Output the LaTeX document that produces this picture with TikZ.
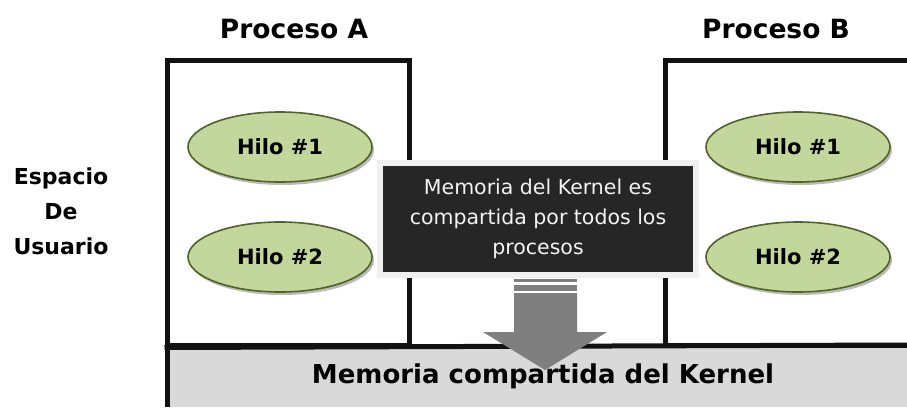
\documentclass[tikz,border=0pt]{standalone}
\usepackage{fontspec}
\setmainfont{DejaVu Sans}
\usepackage{tikz}
\usetikzlibrary{shapes.geometric,shadows}

\definecolor{hilofill}{HTML}{C3D69B}
\definecolor{hiloline}{HTML}{4F6228}
\definecolor{notafill}{HTML}{262626}
\definecolor{kernelfill}{HTML}{D9D9D9}
\definecolor{flechafill}{HTML}{7F7F7F}

\begin{document}
\begin{tikzpicture}[x=1pt,y=-1pt,
  hilo/.style={ellipse,draw=hiloline,line width=1.6pt,fill=hilofill,
    minimum width=184pt,minimum height=70pt,inner sep=0pt,
    font=\fontsize{21}{24}\selectfont\bfseries,
    drop shadow={shadow xshift=2pt,shadow yshift=-3pt,fill=black!45,opacity=.6}},
  proceso/.style={draw=black!93,line width=5pt,inner sep=0pt},
  titulo/.style={font=\fontsize{26.5}{30}\selectfont\bfseries,anchor=base}]
\useasboundingbox (0,0) rectangle (907,407);

\node[fill=kernelfill,minimum width=752pt,minimum height=62pt,inner sep=0pt,
  font=\fontsize{26}{30}\selectfont\bfseries] (kernel) at (543,376) {Memoria compartida del Kernel};
\draw[black!93,line width=5pt] (167,407) -- (167,345);

\node[proceso,minimum width=242pt,minimum height=285pt] (procA) at (288,202.5) {};
\begin{scope}
\clip (0,0) rectangle (907,407);
\node[proceso,minimum width=300pt,minimum height=285pt] (procB) at (815,202.5) {};
\end{scope}
\draw[black!93,line width=5pt] (procA.south west) -- (907,345);

\node[titulo] (tA) at (294,38) {Proceso A};
\node[titulo] (tB) at (776,38) {Proceso B};
\node[align=center,font=\fontsize{22}{35}\selectfont\bfseries] (espacio) at (61,211) {Espacio\\De\\Usuario};

\node[hilo] (a1) at (280,147) {Hilo \#1};
\node[hilo] (a2) at (280,257) {Hilo \#2};
\node[hilo] (b1) at (798,147) {Hilo \#1};
\node[hilo] (b2) at (798,257) {Hilo \#2};

\node[fill=notafill,draw=black!6,line width=6pt,minimum width=316pt,minimum height=112pt,
  text=white!95!black,align=center,font=\fontsize{20.5}{30}\selectfont] (nota) at (538,219)
  {Memoria del Kernel es\\compartida por todos los\\procesos};

% flecha hacia la memoria del kernel
\fill[flechafill] (514,279) rectangle (577,282);
\fill[flechafill] (514,285) rectangle (577,291);
\fill[flechafill] (514,293) -- (577,293) -- (577,332) -- (607,332) -- (545,370)
  -- (483,332) -- (514,332) -- cycle;

\end{tikzpicture}
\end{document}
